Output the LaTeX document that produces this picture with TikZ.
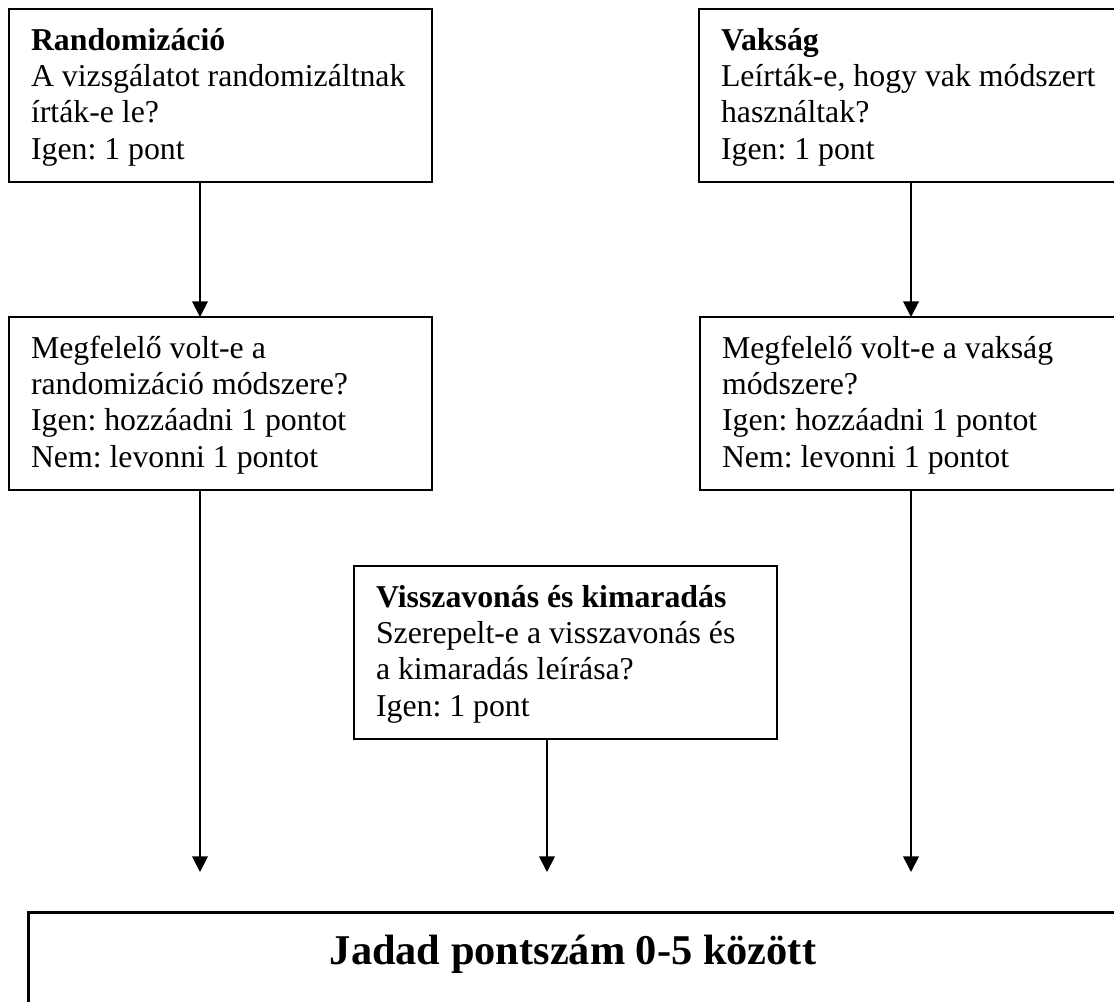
\documentclass[tikz,border=0pt]{standalone}
\usepackage{fontspec}
\setmainfont{Liberation Serif}
\usetikzlibrary{arrows.meta}
\newlength\px
\setlength\px{0.4333pt}
\frenchspacing
\begin{document}
\begin{tikzpicture}[x=0.4333pt,y=-0.4333pt,
  box/.style={draw, line width=0.9pt, inner sep=0pt, outer sep=0pt, anchor=north west,
    minimum width=183.3pt, minimum height=75pt,
    font=\fontsize{13.78pt}{15.8pt}\selectfont},
  bigbox/.style={draw, line width=1.3pt, inner sep=0pt, outer sep=0pt, anchor=north west,
    minimum width=472.3pt, minimum height=86.7pt},
  arr/.style={line width=0.8pt, -{Triangle[length=6.8pt,width=6.8pt]}}]
\useasboundingbox (0,0) rectangle (1114,1001);
\clip (0,0) rectangle (1114,1001);
\fill[white] (0,0) rectangle (1114,1001);

\newcommand\boxtext[1]{\parbox[c][173\px][t]{379\px}{\frenchspacing\rule{0pt}{41\px}#1}}

\node[box] (b1) at (9,9) {\boxtext{\textbf{Randomizáció}\\A vizsgálatot randomizáltnak\\írták-e le?\\Igen: 1 pont}};
\node[box] (b2) at (699,9) {\boxtext{\textbf{Vakság}\\Leírták-e, hogy vak módszert\\használtak?\\Igen: 1 pont}};
\node[box] (b3) at (9,317) {\boxtext{Megfelelő volt-e a\\randomizáció módszere?\\Igen: hozzáadni 1 pontot\\Nem: levonni 1 pontot}};
\node[box] (b4) at (700,317) {\boxtext{Megfelelő volt-e a vakság\\módszere?\\Igen: hozzáadni 1 pontot\\Nem: levonni 1 pontot}};
\node[box] (b5) at (354,566) {\boxtext{\textbf{Visszavonás és kimaradás}\\Szerepelt-e a visszavonás és\\a kimaradás leírása?\\Igen: 1 pont}};
\node[bigbox] (jadad) at (28,912) {\parbox[c][200\px][t]{1000\px}{\centering\fontsize{18.37pt}{22pt}\selectfont\rule{0pt}{52\px}\textbf{Jadad pontszám 0-5 között}}};

\coordinate (e1) at (200,872);
\coordinate (e2) at (547,872);
\coordinate (e3) at (911,872);

\draw[arr] ([xshift=82.76pt]b1.south west) -- ([xshift=82.76pt]b3.north west);
\draw[arr] ([xshift=91.86pt]b2.south west) -- ([xshift=91.43pt]b4.north west);
\draw[arr] ([xshift=82.76pt]b3.south west) -- (e1);
\draw[arr] ([xshift=83.63pt]b5.south west) -- (e2);
\draw[arr] ([xshift=91.43pt]b4.south west) -- (e3);
\end{tikzpicture}
\end{document}
